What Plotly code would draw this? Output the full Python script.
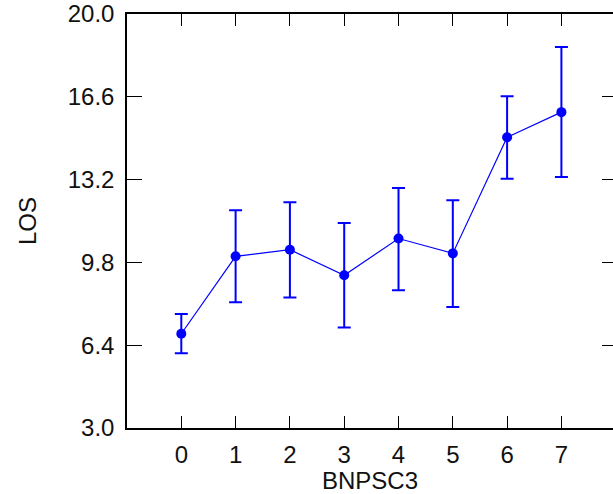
import plotly.graph_objects as go

# Data
bnpsc3 = [0, 1, 2, 3, 4, 5, 6, 7]
los_mean = [6.87, 10.05, 10.32, 9.27, 10.78, 10.17, 14.94, 15.97]
los_err_plus = [0.81, 1.89, 1.95, 2.15, 2.08, 2.18, 1.68, 2.67]
los_err_minus = [0.80, 1.89, 1.96, 2.14, 2.12, 2.20, 1.70, 2.66]
x_ticks = [0, 1, 2, 3, 4, 5, 6, 7]
y_ticks = [3.0, 6.4, 9.8, 13.2, 16.6, 20.0]

BLUE = "#0000FF"
FONT = "Liberation Sans, Arial, sans-serif"

fig = go.Figure()
fig.add_trace(go.Scatter(
    x=bnpsc3, y=los_mean, mode="lines+markers",
    line=dict(color=BLUE, width=1.2),
    marker=dict(color=BLUE, size=10),
    error_y=dict(type="data", array=los_err_plus, arrayminus=los_err_minus,
                 color=BLUE, thickness=2, width=6.5),
    showlegend=False,
))
# invisible trace to host right-hand tick marks
fig.add_trace(go.Scatter(x=[None], y=[None], yaxis="y2", showlegend=False, hoverinfo="skip"))

fig.update_layout(
    width=613, height=494,
    margin=dict(l=127, r=0, t=14, b=66),
    plot_bgcolor="white", paper_bgcolor="white",
    font=dict(family=FONT, size=24, color="#111111"),
    xaxis=dict(
        range=[-1, 7.95], tickvals=x_ticks, ticks="inside", ticklen=12,
        tickcolor="black", tickwidth=1, showline=True, linecolor="black", linewidth=1.5,
        mirror="ticks", showgrid=False, zeroline=False,
        tickfont=dict(size=24), ticklabelstandoff=4,
        title=dict(text="BNPSC3", font=dict(size=24), standoff=6),
    ),
    yaxis=dict(
        range=[3.0, 20.0], tickvals=y_ticks, tickformat=".1f", ticks="inside", ticklen=15,
        tickcolor="black", tickwidth=1, showline=True, linecolor="black", linewidth=1.5,
        mirror=False, showgrid=False, zeroline=False,
        tickfont=dict(size=24), ticklabelstandoff=6,
        title=dict(text="LOS", font=dict(size=24), standoff=24),
    ),
    yaxis2=dict(
        overlaying="y", side="right", range=[3.0, 20.0], tickvals=y_ticks,
        ticks="inside", ticklen=11, tickcolor="black", tickwidth=1,
        showticklabels=False, showline=False, showgrid=False, zeroline=False,
    ),
)

fig.write_html("out.html", config={"displayModeBar": False},
               post_script="document.body.style.margin='0';")
